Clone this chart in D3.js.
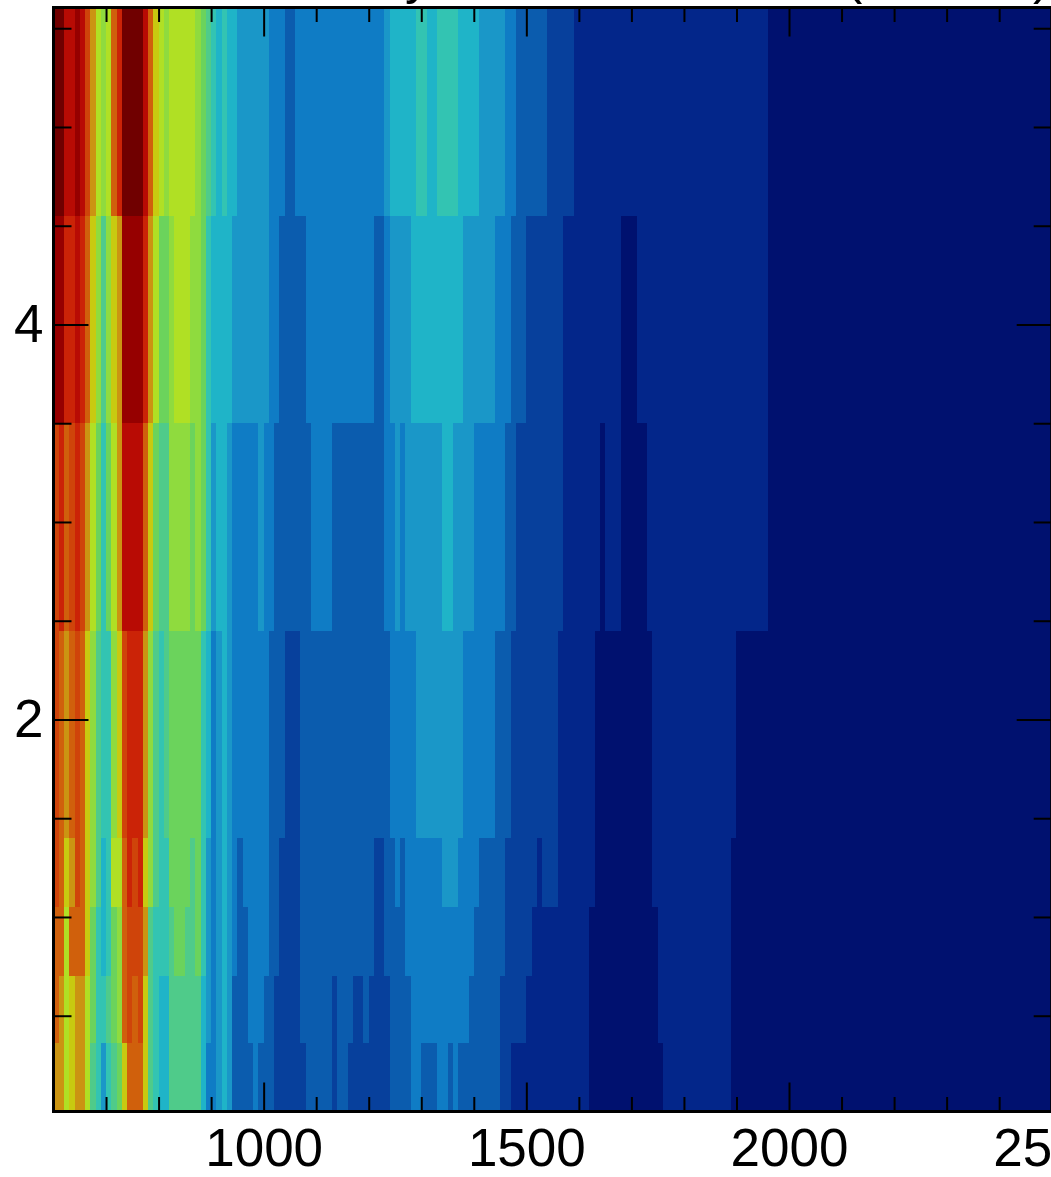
<!DOCTYPE html>
<html>
<head>
<meta charset="utf-8">
<script src="https://cdn.jsdelivr.net/npm/d3@7"></script>
<style>
  html, body { margin: 0; padding: 0; background: #fff; overflow: hidden; }
  text { font-family: "Liberation Sans", Arial, sans-serif; }
  .tick line { stroke: #000; stroke-width: 2px; }
  .tick text { font-size: 53px; fill: #000; }
</style>
</head>
<body>
<div id="container"></div>
<script>
// values, each row is [end of the band, colour level 0-19]
const rowEdges = [0.015, 0.36, 0.70, 1.05, 1.40, 2.45, 3.50, 4.55, 5.605]
const firstBin = 600

const row1 = [[620,13],[630,11],[640,12],[660,13],[670,11],[680,8],[690,7],[700,5],[710,7],[720,8],[730,9],[740,12],[770,14],[780,12],[790,8],[800,7],[820,6],[880,8],[890,6],[910,4],[920,5],[930,6],[940,5],[980,3],[990,4],[1020,3],[1080,2],[1130,3],[1140,2],[1160,3],[1240,2],[1280,3],[1300,4],[1330,3],[1350,4],[1360,3],[1370,4],[1450,3],[1470,2],[1620,1],[1760,0],[1890,1],[2500,0]]
const row2 = [[610,14],[620,13],[630,11],[640,12],[660,13],[670,11],[680,9],[700,7],[710,8],[720,9],[730,10],[740,14],[750,15],[760,14],[770,15],[780,12],[790,8],[800,7],[820,6],[880,8],[890,6],[900,5],[910,4],[920,5],[930,6],[940,5],[970,3],[1000,4],[1020,3],[1070,2],[1130,3],[1140,2],[1170,3],[1190,2],[1200,3],[1240,2],[1280,3],[1390,4],[1450,3],[1500,2],[1620,1],[1750,0],[1890,1],[2500,0]]
const row3 = [[620,14],[630,11],[660,14],[670,12],[680,9],[690,7],[700,6],[710,7],[720,9],[730,10],[740,14],[770,15],[780,13],[790,8],[820,7],[830,8],[850,9],[870,8],[880,9],[890,7],[900,5],[910,4],[920,5],[930,6],[940,5],[950,4],[970,3],[1010,4],[1030,3],[1070,2],[1210,3],[1230,2],[1270,3],[1400,4],[1460,3],[1510,2],[1620,1],[1750,0],[1890,1],[2500,0]]
const row4 = [[610,15],[620,14],[630,12],[640,13],[650,15],[660,14],[670,12],[680,10],[690,8],[700,6],[710,7],[730,11],[740,14],[750,16],[760,15],[770,16],[780,12],[790,10],[800,8],[820,7],[860,9],[870,8],[880,9],[890,7],[900,5],[910,4],[920,5],[930,6],[940,5],[950,4],[960,3],[1010,4],[1030,3],[1070,2],[1210,3],[1230,2],[1250,3],[1260,4],[1270,3],[1340,4],[1370,5],[1410,4],[1460,3],[1520,2],[1530,1],[1560,2],[1630,1],[1740,0],[1890,1],[2500,0]]
const row5 = [[610,15],[620,14],[630,13],[640,14],[650,15],[660,14],[670,12],[680,10],[690,8],[710,7],[720,10],[730,12],[740,15],[770,16],[780,13],[790,10],[800,8],[810,7],[820,8],[880,9],[890,7],[900,6],[910,4],[920,5],[930,6],[940,5],[1010,4],[1040,3],[1070,2],[1240,3],[1290,4],[1380,5],[1440,4],[1470,3],[1560,2],[1630,1],[1740,0],[1900,1],[2500,0]]
const row6 = [[610,15],[620,16],[630,14],[640,15],[650,16],[660,15],[670,13],[680,11],[690,9],[700,7],[710,9],[720,11],[730,13],[770,17],[780,14],[790,12],[800,9],[820,8],[860,10],[870,9],[880,10],[890,9],[900,7],[910,5],[930,6],[940,5],[990,4],[1000,5],[1020,4],[1090,3],[1130,4],[1230,3],[1250,4],[1260,5],[1270,4],[1340,5],[1360,6],[1400,5],[1460,4],[1480,3],[1570,2],[1640,1],[1650,0],[1680,1],[1730,0],[1960,1],[2500,0]]
const row7 = [[620,18],[640,16],[650,17],[660,16],[670,14],[680,12],[690,10],[700,8],[710,10],[720,12],[730,13],[770,18],[780,16],[790,13],[800,11],[820,9],[830,10],[860,11],[880,10],[890,9],[900,7],[940,6],[1010,5],[1030,4],[1080,3],[1210,4],[1230,3],[1240,4],[1280,5],[1380,6],[1440,5],[1470,4],[1500,3],[1570,2],[1680,1],[1710,0],[1960,1],[2500,0]]
const row8 = [[620,19],[640,17],[650,18],[660,17],[670,15],[680,13],[690,11],[700,10],[710,11],[720,14],[730,16],[770,19],[780,17],[790,14],[800,12],[810,11],[820,10],[870,11],[880,10],[890,9],[900,8],[910,7],[920,6],[930,7],[950,6],[1010,5],[1040,4],[1060,3],[1230,4],[1240,5],[1290,6],[1310,7],[1330,6],[1370,7],[1410,6],[1460,5],[1480,4],[1540,3],[1590,2],[1960,1],[2500,0]]
const rows = [row1, row2, row3, row4, row5, row6, row7, row8]

// tick labels and tick positions
const xMajor = [1000, 1500, 2000, 2500]
const xMinor = [600, 700, 800, 900, 1100, 1200, 1300, 1400, 1600, 1700, 1800, 1900, 2100, 2200, 2300, 2400]
const yMajor = [2, 4]
const yMinor = [0.5, 1, 1.5, 2.5, 3, 3.5, 4.5, 5, 5.5]

// colour bands, dark navy up to dark red
const bandColors = ["#00116f", "#03268a", "#07409c", "#0b5cae", "#0f7cc5", "#1a97c8", "#1fb4c8", "#33c4b2", "#4fcb8a", "#6bd35c",
  "#8fdb3e", "#b0e024", "#c8ca10", "#cb9412", "#d0600c", "#cf440a", "#cb2307", "#b80b04", "#960000", "#700000"]

// the title is cut off by the top of the picture, only these descenders show
const titleBits = [["y", 405], ["(", 845], [")", 1033]]

const width = 1051, height = 1177
const margin = { top: 7.5, bottom: 65.5, left: 53.5 }

const xScale = d3.scaleLinear().domain([600, 2500]).range([margin.left, 1051.7])
const yScale = d3.scaleLinear().domain([rowEdges[0], rowEdges[rowEdges.length - 1]]).range([height - margin.bottom, margin.top])
const colorScale = d3.scaleOrdinal(d3.range(bandColors.length), bandColors)

const svg = d3.select("#container")
  .append("svg")
  .attr("width", width)
  .attr("height", height)
  .style("display", "block")

// turn the rows into cells
const cells = rows.flatMap((row, i) => row.map((band, j) => ({
  x0: j === 0 ? firstBin : row[j - 1][0],
  x1: band[0],
  y0: rowEdges[i],
  y1: rowEdges[i + 1],
  level: band[1]
})))

svg.selectAll(".cell")
  .data(cells)
  .join("rect")
  .attr("class", "cell")
  .attr("x", d => xScale(d.x0))
  .attr("width", d => xScale(d.x1) - xScale(d.x0))
  .attr("y", d => yScale(d.y1))
  .attr("height", d => yScale(d.y0) - yScale(d.y1))
  .attr("fill", d => colorScale(d.level))
  .attr("shape-rendering", "crispEdges")

const frameBottom = yScale(rowEdges[0]), frameTop = yScale(rowEdges[8]), frameLeft = xScale(600), frameRight = xScale(2500)

// frame
svg.append("rect")
  .attr("x", frameLeft)
  .attr("y", frameTop)
  .attr("width", frameRight - frameLeft)
  .attr("height", frameBottom - frameTop)
  .attr("fill", "none")
  .attr("stroke", "#000")
  .attr("stroke-width", 3)

// ticks point inwards on all four sides
function addAxis(axisFn, scale, values, size, transform, labels, padding) {
  const axis = axisFn(scale)
    .tickValues(values)
    .tickSizeInner(-size)
    .tickSizeOuter(0)
    .tickPadding(padding || 0)
    .tickFormat(labels ? d3.format("d") : "")
  const g = svg.append("g").attr("transform", transform).call(axis)
  g.select(".domain").remove()
  return g
}

addAxis(d3.axisBottom, xScale, xMinor, 14.5, `translate(0,${frameBottom})`)
addAxis(d3.axisBottom, xScale, xMajor, 29, `translate(0,${frameBottom})`, true, 16.5)
addAxis(d3.axisTop, xScale, xMinor, 14.5, `translate(0,${frameTop})`)
addAxis(d3.axisTop, xScale, xMajor, 29, `translate(0,${frameTop})`)
addAxis(d3.axisLeft, yScale, yMinor, 18, `translate(${frameLeft},0)`)
addAxis(d3.axisLeft, yScale, yMajor, 35, `translate(${frameLeft},0)`, true, 10)
addAxis(d3.axisRight, yScale, yMinor, 18, `translate(${frameRight},0)`)
addAxis(d3.axisRight, yScale, yMajor, 35, `translate(${frameRight},0)`)

svg.selectAll(".titleBit")
  .data(titleBits)
  .join("text")
  .attr("class", "titleBit")
  .attr("x", d => d[1])
  .attr("y", -7)
  .attr("font-size", 52)
  .text(d => d[0])
</script>
</body>
</html>
